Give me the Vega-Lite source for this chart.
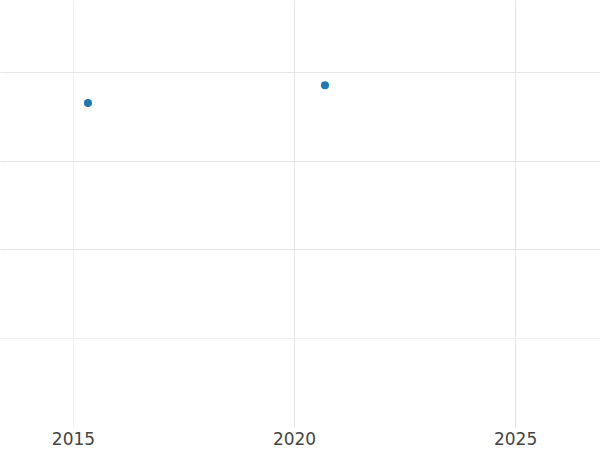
{
  "$schema": "https://vega.github.io/schema/vega-lite/v6.json",
  "width": 600,
  "height": 427,
  "padding": {"top": 0, "left": 0, "right": 0, "bottom": 23},
  "autosize": {"type": "none"},
  "background": "white",
  "config": {"view": {"stroke": null}, "font": "DejaVu Sans"},
  "data": {"values": [
    {"year": 2015.34, "value": 3.65},
    {"year": 2020.7, "value": 3.85}
  ]},
  "mark": {"type": "point", "filled": true, "opacity": 1, "size": 65, "color": "#1f77b4"},
  "encoding": {
    "x": {
      "field": "year", "type": "quantitative",
      "scale": {"domain": [2013.35, 2026.92], "nice": false, "zero": false},
      "axis": {
        "title": null, "values": [2015, 2020, 2025], "format": "d",
        "domain": false, "ticks": false, "labelFontSize": 17, "labelColor": "#444444",
        "labelPadding": 4, "labelFlush": false,
        "gridColor": {"condition": {"test": "datum.value == 2015", "value": "#f0f0f0"}, "value": "#e6e6e6"}, "gridWidth": 1
      }
    },
    "y": {
      "field": "value", "type": "quantitative",
      "scale": {"domain": [0, 4.81], "nice": false, "zero": false},
      "axis": {
        "title": null, "values": [1, 2, 3, 4], "labels": false,
        "domain": false, "ticks": false,
        "gridColor": {"condition": {"test": "datum.value == 1", "value": "#f0f0f0"}, "value": "#e6e6e6"}, "gridWidth": 1
      }
    }
  }
}
